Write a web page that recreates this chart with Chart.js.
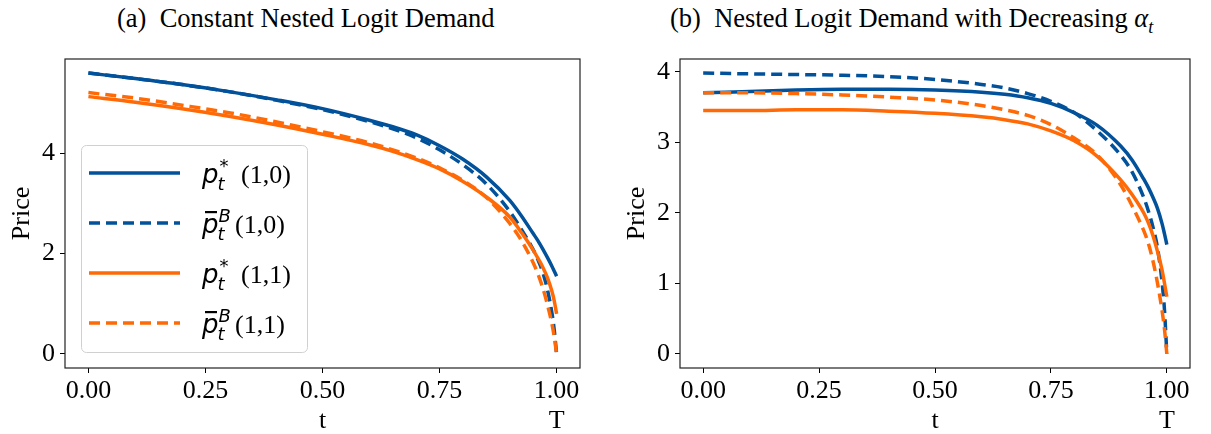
<!DOCTYPE html>
<html>
<head>
<meta charset="utf-8">
<script src="https://cdn.jsdelivr.net/npm/chart.js@4.4.1/dist/chart.umd.min.js"></script>
<style>
  body { margin: 0; background: #fff; }
  #wrap { position: relative; width: 1211px; height: 434px; overflow: hidden; }
  .panel { position: absolute; top: 0; width: 600px; height: 434px; }
  .title { position: absolute; top: 4px; font-family: 'Liberation Serif', serif; font-size: 26.5px; line-height: 28px; white-space: pre; color: #000; }
</style>
</head>
<body>
<div id="wrap">
  <div class="title" style="left:117px">(a)  Constant Nested Logit Demand</div>
  <div class="title" style="left:670px">(b)  Nested Logit Demand with Decreasing <i>α</i><sub style="font-size:18px"><i>t</i></sub></div>
  <div class="panel" style="left:0"><canvas id="constChart" width="600" height="434"></canvas></div>
  <div class="panel" style="left:611px"><canvas id="decrChart" width="600" height="434"></canvas></div>
</div>
<script>
// time grid (same for every curve), denser near T
const tGrid = [0, 0.1, 0.2, 0.3, 0.4, 0.5, 0.6, 0.65, 0.7, 0.75, 0.8, 0.85, 0.9, 0.925, 0.95, 0.96, 0.97, 0.98, 0.99, 0.995, 1.0];

// (a) constant nested logit demand
const constP10    = [5.60, 5.49, 5.37, 5.23, 5.07, 4.89, 4.66, 4.53, 4.37, 4.15, 3.88, 3.53, 3.06, 2.75, 2.40, 2.26, 2.10, 1.93, 1.75, 1.65, 1.55];
const constBarP10 = [5.60, 5.49, 5.37, 5.23, 5.06, 4.87, 4.63, 4.49, 4.31, 4.07, 3.77, 3.39, 2.84, 2.48, 2.08, 1.88, 1.64, 1.30, 0.82, 0.48, 0.00];
const constP11    = [5.13, 5.02, 4.89, 4.74, 4.57, 4.38, 4.17, 4.04, 3.88, 3.69, 3.44, 3.13, 2.73, 2.42, 2.07, 1.91, 1.74, 1.53, 1.25, 1.06, 0.80];
const constBarP11 = [5.21, 5.10, 4.96, 4.81, 4.63, 4.43, 4.21, 4.07, 3.91, 3.71, 3.46, 3.12, 2.60, 2.26, 1.82, 1.60, 1.33, 1.00, 0.60, 0.34, 0.00];

// (b) nested logit demand with decreasing alpha_t
const decrP10    = [3.70, 3.72, 3.74, 3.75, 3.75, 3.74, 3.71, 3.68, 3.63, 3.55, 3.42, 3.24, 2.95, 2.75, 2.48, 2.36, 2.22, 2.06, 1.84, 1.70, 1.55];
const decrBarP10 = [3.98, 3.97, 3.96, 3.95, 3.93, 3.89, 3.82, 3.77, 3.69, 3.58, 3.42, 3.16, 2.82, 2.58, 2.22, 2.03, 1.80, 1.50, 1.00, 0.62, 0.00];
const decrP11    = [3.45, 3.45, 3.46, 3.46, 3.44, 3.41, 3.36, 3.32, 3.26, 3.16, 3.02, 2.80, 2.47, 2.26, 2.00, 1.86, 1.68, 1.45, 1.18, 1.00, 0.81];
const decrBarP11 = [3.70, 3.70, 3.69, 3.67, 3.64, 3.60, 3.52, 3.46, 3.38, 3.25, 3.06, 2.82, 2.40, 2.10, 1.75, 1.57, 1.32, 1.00, 0.60, 0.35, 0.00];

const xTicks = [0, 0.25, 0.5, 0.75, 1.0];
const constYTicks = [0, 2, 4];
const decrYTicks = [0, 1, 2, 3, 4];
const seriesLabels = ['p_t^*(1,0)', 'p̄_t^B(1,0)', 'p_t^*(1,1)', 'p̄_t^B(1,1)'];

const BLUE = '#02519b';
const ORANGE = '#ff6a06';
const SERIF = "'Liberation Serif', serif";
const styles = [
  { color: BLUE, dash: [] },
  { color: BLUE, dash: [11, 6] },
  { color: ORANGE, dash: [] },
  { color: ORANGE, dash: [11, 6] }
];

function makeDatasets(arrays) {
  return arrays.map((arr, i) => ({
    label: seriesLabels[i],
    data: tGrid.map((t, j) => ({ x: t, y: arr[j] })),
    borderColor: styles[i].color,
    borderDash: styles[i].dash,
    borderWidth: 3.5,
    borderCapStyle: 'butt',
    pointRadius: 0,
    fill: false,
    cubicInterpolationMode: 'monotone',
    order: 4 - i // later series on top, like matplotlib
  }));
}

// box around the plot + the "T" under the last tick
const framePlugin = {
  id: 'frame',
  afterDraw(chart) {
    const { ctx, chartArea: a } = chart;
    ctx.save();
    ctx.strokeStyle = '#222';
    ctx.lineWidth = 1.2;
    ctx.strokeRect(a.left, a.top, a.right - a.left, a.bottom - a.top);
    const xs = chart.scales.x;
    ctx.fillStyle = '#000';
    ctx.font = '26px ' + SERIF;
    ctx.textAlign = 'center';
    ctx.textBaseline = 'middle';
    ctx.fillText('T', xs.getPixelForValue(1), xs.bottom - 13);
    ctx.restore();
  }
};

// legend with sub/superscripts, drawn by hand
function drawLabel(ctx, x, y, bar, sup, tail, tailX) {
  ctx.fillStyle = '#000';
  ctx.textAlign = 'left';
  ctx.textBaseline = 'alphabetic';
  ctx.font = 'italic 26px "DejaVu Sans"';
  ctx.fillText('p', x, y);
  const pw = ctx.measureText('p').width;
  if (bar) {
    ctx.fillRect(x + 3, y - 22, 12, 2.2);
  }
  ctx.font = 'italic 18px "DejaVu Sans"';
  ctx.fillText('t', x + pw - 1, y + 7);
  ctx.font = (sup === '*' ? '' : 'italic ') + '18px "DejaVu Sans"';
  ctx.fillText(sup, x + pw + (sup === '*' ? 1 : 0), y - 11);
  ctx.font = '26px ' + SERIF;
  ctx.fillText(tail, tailX, y);
}

const legendPlugin = {
  id: 'mathLegend',
  afterDraw(chart) {
    const ctx = chart.ctx;
    ctx.save();
    ctx.beginPath();
    ctx.roundRect(81.5, 145.5, 226, 207, 5);
    ctx.fillStyle = 'rgba(255,255,255,0.8)';
    ctx.fill();
    ctx.strokeStyle = '#d0d0d0';
    ctx.lineWidth = 1;
    ctx.stroke();
    const tails = ['(1,0)', '(1,0)', '(1,1)', '(1,1)'];
    for (let i = 0; i < 4; i++) {
      const y = 173 + 50 * i;
      ctx.beginPath();
      ctx.setLineDash(styles[i].dash);
      ctx.strokeStyle = styles[i].color;
      ctx.lineWidth = 3.5;
      ctx.lineCap = 'butt';
      ctx.moveTo(89, y);
      ctx.lineTo(180, y);
      ctx.stroke();
      ctx.setLineDash([]);
      const isBar = i % 2 === 1;
      drawLabel(ctx, 202, y + 10, isBar, isBar ? 'B' : '*', tails[i], isBar ? 235 : 241);
    }
    ctx.restore();
  }
};

function makeConfig(arrays, yMin, yMax, yTicks, yWidth, padRight, titlePad, extraPlugins) {
  return {
    type: 'line',
    data: { datasets: makeDatasets(arrays) },
    options: {
      responsive: false,
      animation: false,
      layout: { padding: { left: 0, right: padRight, top: 59, bottom: 0 } },
      plugins: { legend: { display: false }, tooltip: { enabled: false } },
      scales: {
        x: {
          type: 'linear',
          min: -0.05,
          max: 1.05,
          afterBuildTicks: (s) => { s.ticks = xTicks.map(v => ({ value: v })); },
          afterFit: (s) => { s.height = 66; },
          border: { display: false },
          grid: { drawOnChartArea: false, drawTicks: true, tickLength: 5, color: '#000' },
          ticks: {
            autoSkip: false, maxRotation: 0, padding: 3, color: '#000',
            font: { family: SERIF, size: 26 },
            callback: (v) => Number(v).toFixed(2)
          },
          title: {
            display: true, text: 't', color: '#000',
            font: { family: SERIF, size: 26, lineHeight: 1 },
            padding: { top: 0, bottom: 0 }
          }
        },
        y: {
          min: yMin,
          max: yMax,
          afterBuildTicks: (s) => { s.ticks = yTicks.map(v => ({ value: v })); },
          afterFit: (s) => { s.width = yWidth; },
          border: { display: false },
          grid: { drawOnChartArea: false, drawTicks: true, tickLength: 5, color: '#000' },
          ticks: {
            autoSkip: false, padding: 5, color: '#000',
            font: { family: SERIF, size: 26 },
            callback: (v) => String(v)
          },
          title: {
            display: true, text: 'Price', color: '#000',
            font: { family: SERIF, size: 26, lineHeight: 1 },
            padding: { top: titlePad, bottom: 0 }
          }
        }
      }
    },
    plugins: [framePlugin].concat(extraPlugins)
  };
}

new Chart(document.getElementById('constChart'),
  makeConfig([constP10, constBarP10, constP11, constBarP11], -0.28, 5.88, constYTicks, 65, 20, 9, [legendPlugin]));
new Chart(document.getElementById('decrChart'),
  makeConfig([decrP10, decrBarP10, decrP11, decrBarP11], -0.2, 4.18, decrYTicks, 69, 21, 13, []));
</script>
</body>
</html>
